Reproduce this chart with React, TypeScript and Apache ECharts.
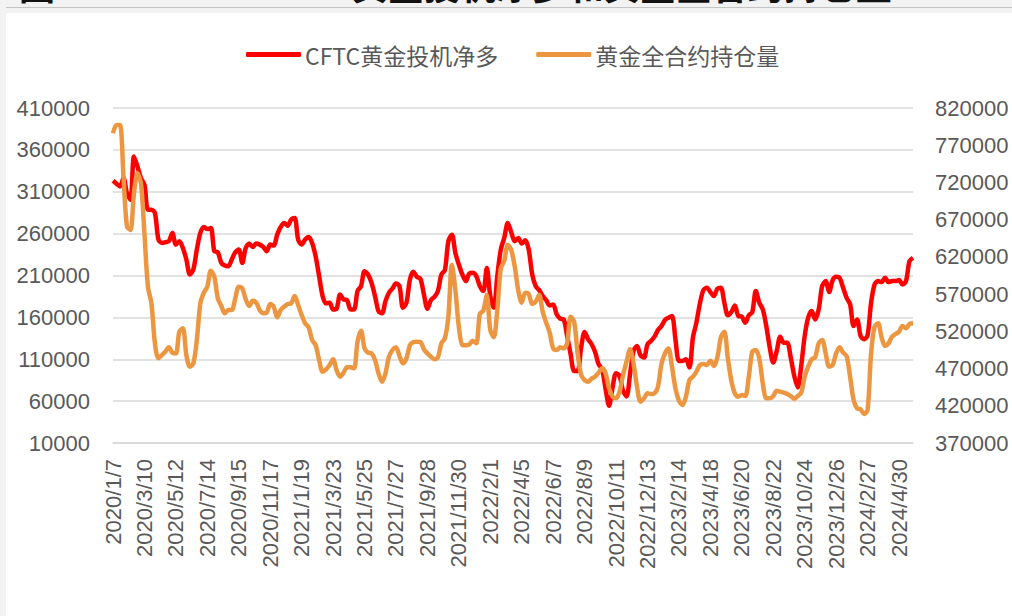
import React, { useEffect, useRef } from "react";
import * as echarts from "echarts";

// ---- data ----
const START_DATE = "2020-01-07"; // weekly COT dates (Tuesdays)
const WEEK_COUNT = 230;
const SERIES_NAMES = ["CFTC黄金投机净多", "黄金全合约持仓量"];
const TITLE_PREFIX = "图";
const TITLE_TEXT = "CFTC黄金投机净多和黄金全合约持仓量";

const LEFT_MIN = 10000;
const LEFT_MAX = 410000;
const RIGHT_MIN = 370000;
const RIGHT_MAX = 820000;
const AXIS_STEP = 50000;

const netLong = [
  323100, 319500, 316400, 326300, 308400, 300500, 352100, 340200, 326300, 318300,
  288600, 288600, 284600, 252900, 248900, 249700, 250900, 260800, 246900, 250900,
  242900, 229100, 211200, 217200, 241000, 260800, 267900, 265500, 266700, 239000,
  237800, 225100, 221900, 221100, 229100, 237800, 241000, 225100, 242900, 248100,
  244100, 248100, 246900, 244100, 239000, 246900, 245700, 258800, 267900, 272700,
  269500, 276700, 278600, 252900, 246900, 252900, 256000, 248900, 233000, 209200,
  185400, 176700, 177500, 169500, 170300, 187400, 181400, 180600, 169500, 169500,
  191400, 197300, 215200, 211200, 201300, 185400, 167500, 164800, 179400, 189400,
  194500, 200500, 197300, 171500, 177500, 205200, 214400, 208400, 206000, 187400,
  170300, 180600, 184600, 191400, 211200, 216400, 250900, 258800, 237000, 223100,
  211200, 203300, 212400, 213200, 209200, 197300, 191400, 219100, 185400, 171500,
  209200, 241000, 254900, 272700, 261600, 250900, 254900, 248100, 252100, 241000,
  211200, 197300, 192500, 185400, 180600, 174300, 175500, 163600, 158400, 157600,
  137800, 115900, 96100, 96100, 123900, 142500, 133800, 127900, 118700, 104100,
  98100, 74300, 54500, 76300, 93300, 90200, 72300, 65600, 92100, 119900,
  125900, 114800, 112000, 127900, 131800, 137000, 144900, 149700, 156800, 159600,
  161600, 133800, 108000, 108000, 110000, 100100, 135800, 153700, 176700, 192500,
  195300, 190200, 185400, 194100, 195300, 177500, 162400, 166400, 174300, 161600,
  160800, 153700, 162400, 166400, 191400, 177500, 169500, 149700, 123900, 106000,
  119900, 137000, 129800, 129800, 112000, 90200, 76300, 102100, 137800, 159600,
  167500, 157600, 169500, 197300, 203300, 190200, 204500, 208400, 207200, 195300,
  183400, 175500, 149700, 157600, 137800, 133800, 138600, 177500, 199300, 203300,
  202100, 207200, 202100, 203300, 203300, 204500, 199300, 203300, 227100, 231000,
];

const openInterest = [
  786000, 797200, 797200, 727800, 660600, 656100, 705400, 732200, 718800, 651600,
  580000, 557600, 503900, 483700, 488200, 492700, 498500, 491300, 490400, 519500,
  524000, 488200, 472500, 477000, 508300, 557600, 571900, 580000, 601500, 593400,
  564300, 554000, 544200, 548600, 548600, 564300, 580000, 577700, 563000, 554000,
  561200, 558500, 548600, 544200, 545000, 556700, 553100, 538800, 548600, 553100,
  556700, 557600, 567400, 555400, 541900, 530700, 525300, 508300, 501600, 481500,
  465800, 468900, 474700, 482400, 468000, 459100, 464500, 471600, 471600, 470300,
  506100, 520900, 497100, 491300, 490400, 481500, 463600, 452300, 463600, 486000,
  494900, 498500, 486800, 477000, 483700, 501600, 505600, 506100, 505600, 495800,
  490400, 486000, 482400, 485000, 503900, 510600, 539700, 609100, 575500, 526200,
  501600, 501200, 502500, 507400, 503900, 543300, 547700, 568800, 521800, 511900,
  548600, 604600, 614900, 636000, 629200, 606800, 575500, 558500, 571900, 570100,
  556700, 559800, 568800, 546400, 531600, 518200, 497100, 494900, 498500, 497100,
  503900, 539700, 532900, 490400, 461300, 454600, 452300, 456400, 459100, 464500,
  470300, 463600, 443400, 432200, 430000, 438900, 461300, 479200, 495800, 477000,
  445600, 425500, 430000, 436700, 435800, 436700, 445600, 476100, 490400, 497100,
  472500, 443400, 426800, 421000, 432200, 454600, 459100, 465800, 474700, 476100,
  474700, 480600, 473400, 485000, 511900, 519500, 483700, 453700, 436700, 432200,
  434400, 433100, 459100, 492700, 494900, 483700, 450100, 430000, 430000, 433100,
  440300, 438900, 437600, 435800, 433100, 429500, 433100, 437600, 459100, 472500,
  482400, 485000, 503900, 508300, 490400, 472500, 474700, 490400, 498500, 491300,
  486800, 459100, 427700, 416500, 415200, 408900, 414300, 490400, 526200, 530700,
  511900, 500300, 503900, 512800, 516400, 519500, 527100, 524000, 529800, 530700,
];

function buildDates(start: string, count: number): string[] {
  const out: string[] = [];
  const t0 = Date.parse(start + "T00:00:00Z");
  for (let i = 0; i < count; i++) {
    const d = new Date(t0 + i * 7 * 86400000);
    out.push(`${d.getUTCFullYear()}/${d.getUTCMonth() + 1}/${d.getUTCDate()}`);
  }
  return out;
}
const dates = buildDates(START_DATE, WEEK_COUNT);

const FONT = "'Liberation Sans', 'Noto Sans CJK SC', sans-serif";
const CJK_FONT = "'Noto Sans CJK SC', 'Liberation Sans', sans-serif";
const plain = (v: number) => String(v);

export default function App() {
  const ref = useRef<HTMLDivElement>(null);

  useEffect(() => {
    document.body.style.margin = "0";
    const chart = echarts.init(ref.current!, null, { renderer: "svg" });
    chart.setOption({
      animation: false,
      backgroundColor: "transparent",
      graphic: [
        {
          type: "text",
          left: 19,
          top: -34,
          style: { text: TITLE_PREFIX, font: `bold 36px ${CJK_FONT}`, fill: "#111" },
        },
        {
          type: "text",
          left: 262,
          top: -34,
          style: { text: TITLE_TEXT, font: `bold 36px ${CJK_FONT}`, fill: "#111" },
        },
      ],
      legend: {
        left: 241,
        top: 38,
        itemWidth: 55,
        itemHeight: 5,
        itemGap: 38,
        icon: "roundRect",
        textStyle: { fontSize: 23, color: "#595959", fontFamily: CJK_FONT, padding: [0, 0, 0, -1] },
        data: SERIES_NAMES,
      },
      grid: { left: 113, right: 99, top: 108, bottom: 173 },
      xAxis: {
        type: "category",
        data: dates,
        boundaryGap: false,
        axisLine: { lineStyle: { color: "#d9d9d9", width: 1.5 } },
        axisTick: { show: false },
        axisLabel: {
          interval: 8,
          rotate: 90,
          margin: 16,
          fontSize: 22,
          color: "#595959",
          fontFamily: FONT,
        },
      },
      yAxis: [
        {
          type: "value",
          min: LEFT_MIN,
          max: LEFT_MAX,
          interval: AXIS_STEP,
          axisLine: { show: false },
          axisTick: { show: false },
          splitLine: { lineStyle: { color: "#d9d9d9", width: 1.5 } },
          axisLabel: { margin: 23, fontSize: 22, color: "#595959", fontFamily: FONT, formatter: plain },
        },
        {
          type: "value",
          min: RIGHT_MIN,
          max: RIGHT_MAX,
          interval: AXIS_STEP,
          position: "right",
          axisLine: { show: false },
          axisTick: { show: false },
          splitLine: { show: false },
          axisLabel: { margin: 22, fontSize: 22, color: "#595959", fontFamily: FONT, formatter: plain },
        },
      ],
      series: [
        {
          name: SERIES_NAMES[0],
          type: "line",
          yAxisIndex: 0,
          data: netLong,
          showSymbol: false,
          smooth: 0.3,
          color: "#ff0000",
          lineStyle: { color: "#ff0000", width: 4.5 },
        },
        {
          name: SERIES_NAMES[1],
          type: "line",
          yAxisIndex: 1,
          data: openInterest,
          showSymbol: false,
          smooth: 0.3,
          color: "#ed9642",
          lineStyle: { color: "#ed9642", width: 4.5 },
        },
      ],
    });
    return () => chart.dispose();
  }, []);

  return (
    <div
      style={{
        position: "relative",
        width: 1012,
        height: 616,
        background: "#f2f2f2",
        overflow: "hidden",
      }}
    >
      <div style={{ position: "absolute", left: 6, right: 0, top: 7, height: 1, background: "#c4c4c4" }} />
      <div style={{ position: "absolute", left: 6, top: 13, right: 0, bottom: 0, background: "#ffffff" }} />
      <div ref={ref} style={{ position: "absolute", left: 0, top: 0, width: 1012, height: 616 }} />
    </div>
  );
}
